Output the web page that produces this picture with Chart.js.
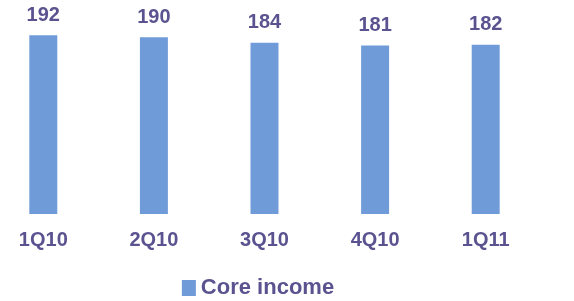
<!DOCTYPE html>
<html>
<head>
<meta charset="utf-8">
<script src="https://cdn.jsdelivr.net/npm/chart.js@4/dist/chart.umd.min.js"></script>
<style>
  html, body { margin: 0; padding: 0; background: #fff; overflow: hidden; }
  #wrap { position: absolute; left: -12px; top: 0; width: 553px; height: 301px; }
</style>
</head>
<body>
<div id="wrap"><canvas id="c"></canvas></div>
<script>
// ===== Core income by quarter =====
const quarters   = ['1Q10', '2Q10', '3Q10', '4Q10', '1Q11'];
const coreIncome = [192, 190, 184, 181, 182];
const seriesName = 'Core income';

const BAR  = '#6f9cd9';
const TEXT = '#5b5390';
const FONT = 'Arial, "Liberation Sans", sans-serif';

// values printed above each bar
const barLabels = {
  id: 'barLabels',
  afterDatasetsDraw(chart) {
    const ctx = chart.ctx;
    ctx.save();
    ctx.font = `bold 20px ${FONT}`;
    ctx.fillStyle = TEXT;
    ctx.textAlign = 'center';
    ctx.textBaseline = 'middle';
    chart.getDatasetMeta(0).data.forEach((bar, i) => {
      ctx.fillText(String(coreIncome[i]), bar.x, bar.y - 20);
    });
    ctx.restore();
  },
};

// legend drawn by hand: the built-in one puts a wider gap between box and text
const bottomLegend = {
  id: 'bottomLegend',
  afterDraw(chart) {
    const ctx = chart.ctx;
    ctx.save();
    ctx.font = `bold 22px ${FONT}`;
    const tw = ctx.measureText(seriesName).width;
    const total = 14 + 5 + tw;
    const x0 = chart.width / 2 - 6.5 - total / 2;
    ctx.fillStyle = BAR;
    ctx.fillRect(x0, 280, 14, 16);
    ctx.fillStyle = TEXT;
    ctx.textAlign = 'left';
    ctx.textBaseline = 'middle';
    ctx.fillText(seriesName, x0 + 19, 288);
    ctx.restore();
  },
};

new Chart(document.getElementById('c'), {
  type: 'bar',
  data: {
    labels: quarters,
    datasets: [{
      label: seriesName,
      data: coreIncome,
      backgroundColor: BAR,
      borderWidth: 0,
      barPercentage: 0.253,
      categoryPercentage: 1,
    }],
  },
  options: {
    responsive: true,
    maintainAspectRatio: false,
    animation: false,
    layout: { padding: { top: 0, left: 0, right: 0, bottom: 35 } },
    scales: {
      x: {
        grid: { display: false, drawTicks: false },
        border: { display: false },
        ticks: { color: TEXT, font: { family: FONT, size: 20, weight: 'bold' }, padding: 14 },
      },
      y: { display: false, min: 0, max: 230 },
    },
    plugins: {
      legend: { display: false },
      tooltip: { enabled: false },
    },
  },
  plugins: [barLabels, bottomLegend],
});
</script>
</body>
</html>
